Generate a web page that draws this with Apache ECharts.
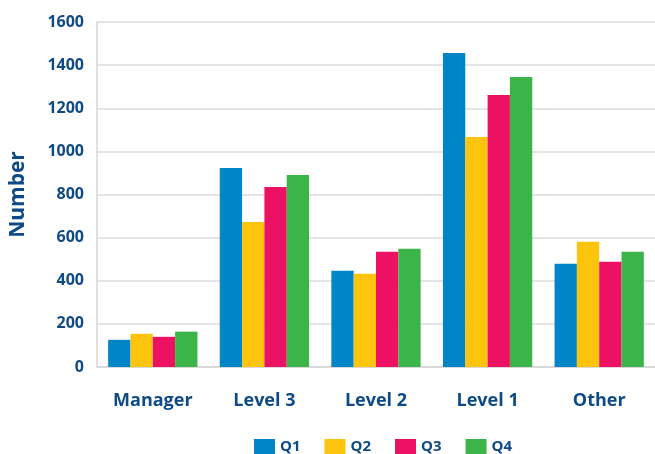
<!DOCTYPE html>
<html>
<head>
<meta charset="utf-8">
<script src="https://cdn.jsdelivr.net/npm/echarts@6/dist/echarts.min.js"></script>
<style>html,body{margin:0;padding:0;background:#fff}#c{width:655px;height:454px}</style>
</head>
<body>
<div id="c"></div>
<script>
const categories = ['Manager', 'Level 3', 'Level 2', 'Level 1', 'Other'];
const seriesNames = ['Q1', 'Q2', 'Q3', 'Q4'];
const q1 = [126, 923, 446, 1456, 479];
const q2 = [154, 673, 432, 1067, 581];
const q3 = [140, 835, 534, 1262, 488];
const q4 = [164, 891, 548, 1345, 534];
const colors = ['#0085c8', '#fdc40d', '#ed1164', '#3bb54a'];
const yTicks = { min: 0, max: 1600, interval: 200 };

const txt = '#0d4a86';
const font = '"Open Sans", "Noto Sans", sans-serif';
const values = [q1, q2, q3, q4];

const chart = echarts.init(document.getElementById('c'), null, { renderer: 'canvas' });
chart.setOption({
  animation: false,
  backgroundColor: '#fff',
  color: colors,
  textStyle: { fontFamily: font },
  legend: {
    data: seriesNames,
    top: 434,
    left: 249,
    itemWidth: 21,
    itemHeight: 15,
    itemGap: 24,
    icon: 'rect',
    textStyle: { color: txt, fontSize: 15, fontWeight: 'bold', fontFamily: font, padding: [3, 0, 0, 0] }
  },
  grid: [
    { left: 92, right: 0, top: 22, bottom: 87 },
    { left: 97, right: 0, top: 22, bottom: 87 }
  ],
  xAxis: [
    { gridIndex: 0, type: 'category', data: categories, axisTick: { show: false },
      axisLine: { lineStyle: { color: '#d6d6d6', width: 1.5 } },
      axisLabel: { show: false }, splitLine: { show: false } },
    { gridIndex: 1, type: 'category', data: categories, axisTick: { show: false },
      axisLine: { show: false },
      axisLabel: { color: txt, fontSize: 18, fontWeight: 'bold', fontFamily: font, margin: 25 } }
  ],
  yAxis: [
    { gridIndex: 0, type: 'value', min: yTicks.min, max: yTicks.max, interval: yTicks.interval,
      name: 'Number', nameLocation: 'middle', nameGap: 68, nameRotate: 90,
      nameTextStyle: { color: txt, fontSize: 21, fontWeight: 'bold', fontFamily: font },
      axisLine: { show: true, lineStyle: { color: '#d6d6d6', width: 1.5 } },
      axisTick: { show: false },
      axisLabel: { color: txt, fontSize: 16, fontWeight: 'bold', fontFamily: font, margin: 13,
        formatter: v => String(v) },
      splitLine: { lineStyle: { color: '#dcdcdc', width: 1.5 } } },
    { gridIndex: 1, type: 'value', min: yTicks.min, max: yTicks.max, interval: yTicks.interval,
      axisLine: { show: false }, axisTick: { show: false }, axisLabel: { show: false }, splitLine: { show: false } }
  ],
  series: seriesNames.map((n, i) => ({
    name: n, type: 'bar', xAxisIndex: 1, yAxisIndex: 1, data: values[i],
    barGap: '0%', barCategoryGap: '20%', itemStyle: { color: colors[i] }
  }))
});
</script>
</body>
</html>
